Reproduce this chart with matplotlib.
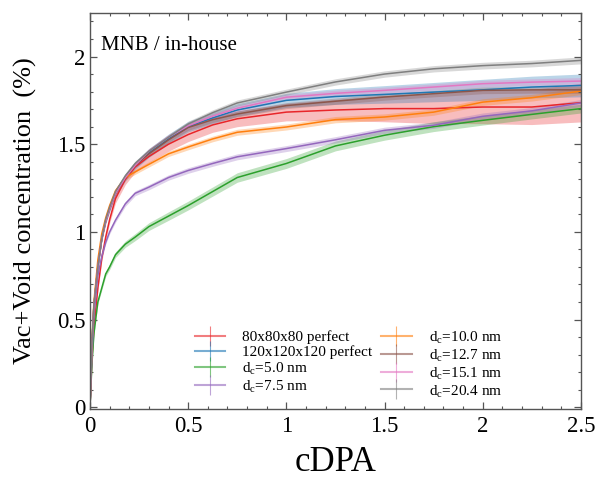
import numpy as np
import matplotlib
matplotlib.use("Agg")
import matplotlib.pyplot as plt
from matplotlib.lines import Line2D
from matplotlib.ticker import MultipleLocator, FormatStrFormatter


cdpa = [0, 0.01, 0.02, 0.04, 0.06, 0.08, 0.1, 0.13, 0.18, 0.23, 0.3,
        0.4, 0.5, 0.625, 0.75, 1.0, 1.25, 1.5, 1.75, 2.0, 2.25, 2.5]

perfect_80 = [0, 0.28, 0.45, 0.68, 0.85, 0.97, 1.07, 1.19, 1.30, 1.37, 1.43,
              1.50, 1.555, 1.61, 1.645, 1.683, 1.695, 1.703, 1.703, 1.712, 1.712, 1.737]
perfect_80_err = [0, 0.005, 0.01, 0.015, 0.02, 0.02, 0.02, 0.025, 0.03, 0.03, 0.035,
                  0.04, 0.04, 0.042, 0.045, 0.05, 0.06, 0.075, 0.085, 0.095, 0.10, 0.11]

perfect_120 = [0, 0.36, 0.58, 0.80, 0.96, 1.06, 1.13, 1.22, 1.31, 1.38, 1.45,
               1.53, 1.60, 1.65, 1.695, 1.75, 1.772, 1.784, 1.797, 1.81, 1.826, 1.835]
perfect_120_err = [0, 0.005, 0.01, 0.012, 0.015, 0.015, 0.018, 0.02, 0.02, 0.022, 0.025,
                   0.028, 0.03, 0.033, 0.036, 0.04, 0.045, 0.05, 0.055, 0.06, 0.062, 0.065]

dc_5_0 = [0, 0.25, 0.42, 0.60, 0.68, 0.76, 0.80, 0.87, 0.93, 0.97, 1.03,
          1.09, 1.15, 1.23, 1.31, 1.39, 1.49, 1.551, 1.60, 1.636, 1.67, 1.703]
dc_7_5 = [0, 0.30, 0.52, 0.75, 0.86, 0.94, 1.00, 1.067, 1.16, 1.22, 1.255,
          1.31, 1.35, 1.39, 1.428, 1.475, 1.525, 1.579, 1.608, 1.659, 1.69, 1.735]
dc_10_0 = [0, 0.38, 0.60, 0.84, 0.99, 1.08, 1.15, 1.235, 1.31, 1.342, 1.385,
           1.445, 1.484, 1.53, 1.568, 1.598, 1.64, 1.655, 1.683, 1.74, 1.765, 1.803]
dc_12_7 = [0, 0.36, 0.58, 0.80, 0.96, 1.06, 1.13, 1.22, 1.31, 1.38, 1.445,
           1.525, 1.595, 1.64, 1.672, 1.72, 1.745, 1.769, 1.788, 1.807, 1.81, 1.81]
dc_15_1 = [0, 0.36, 0.58, 0.80, 0.96, 1.06, 1.13, 1.22, 1.31, 1.38, 1.46,
           1.54, 1.605, 1.66, 1.705, 1.768, 1.79, 1.807, 1.826, 1.845, 1.854, 1.86]
dc_20_4 = [0, 0.36, 0.58, 0.80, 0.96, 1.07, 1.14, 1.23, 1.32, 1.39, 1.46,
           1.54, 1.615, 1.68, 1.735, 1.797, 1.855, 1.90, 1.93, 1.948, 1.96, 1.978]

small_err = [0, 0.004, 0.006, 0.008, 0.01, 0.01, 0.012, 0.012, 0.014, 0.014, 0.015,
             0.015, 0.016, 0.016, 0.017, 0.017, 0.018, 0.018, 0.018, 0.019, 0.019, 0.02]
green_err = [0, 0.005, 0.008, 0.01, 0.012, 0.014, 0.015, 0.016, 0.018, 0.02, 0.022,
             0.024, 0.025, 0.026, 0.027, 0.028, 0.028, 0.028, 0.028, 0.027, 0.026, 0.025]

labels = ["80x80x80 perfect", "120x120x120 perfect",
          r"d$_\mathregular{c}$=5.0 nm", r"d$_\mathregular{c}$=7.5 nm",
          r"d$_\mathregular{c}$=10.0 nm", r"d$_\mathregular{c}$=12.7 nm",
          r"d$_\mathregular{c}$=15.1 nm", r"d$_\mathregular{c}$=20.4 nm"]
colors = ["#e8262a", "#1f77b4", "#2ca02c", "#9467bd",
          "#ff7f0e", "#8c564b", "#e377c2", "#7f7f7f"]


def main():

    plt.rcParams["font.family"] = ["Liberation Serif", "DejaVu Serif"]
    plt.rcParams["mathtext.fontset"] = "custom"
    plt.rcParams["mathtext.rm"] = "Liberation Serif"

    series = [
        (perfect_80, perfect_80_err),
        (perfect_120, perfect_120_err),
        (dc_5_0, green_err),
        (dc_7_5, small_err),
        (dc_10_0, small_err),
        (dc_12_7, small_err),
        (dc_15_1, small_err),
        (dc_20_4, small_err),
    ]

    fig = plt.figure(figsize=(6.06, 4.79), dpi=100)
    ax = fig.add_axes([0.1485, 0.1455, 0.81, 0.828])

    x = np.array(cdpa)
    handles = []

    for (values, err), color, label in zip(series, colors, labels):

        y = np.array(values)
        e = np.array(err)

        ax.fill_between(x, y - e, y + e, color=color,
                        alpha=0.3, linewidth=0)
        ax.plot(x, y, color=color, linewidth=1.1)

        handles.append(
            Line2D([], [], color=color, alpha=0.6, linewidth=1.5,
                   marker="|", markersize=14, markeredgewidth=0.8,
                   label=label)
        )

    ax.set_xlim(0, 2.5)
    ax.set_ylim(-0.012, 2.25)

    ax.xaxis.set_major_locator(MultipleLocator(0.5))
    ax.xaxis.set_minor_locator(MultipleLocator(0.1))
    ax.yaxis.set_major_locator(MultipleLocator(0.5))
    ax.yaxis.set_minor_locator(MultipleLocator(0.1))
    ax.xaxis.set_major_formatter(FormatStrFormatter("%g"))
    ax.yaxis.set_major_formatter(FormatStrFormatter("%g"))

    ax.tick_params(which="both", direction="in", top=True, right=True,
                   color="#555555", labelsize=16.5)
    ax.tick_params(which="major", length=5, width=0.9)
    ax.tick_params(which="minor", length=2.5, width=0.8)
    ax.tick_params(axis="x", pad=5)

    for spine in ax.spines.values():
        spine.set_color("#555555")
        spine.set_linewidth(1.0)

    ax.set_xlabel("cDPA", fontsize=25, labelpad=6)
    ax.set_ylabel("Vac+Void concentration  (%)", fontsize=19, labelpad=14)

    ax.text(0.022, 0.94, "MNB / in-house", transform=ax.transAxes,
            fontsize=15, va="top", ha="left")

    ax.legend(handles=handles, ncol=2, frameon=False, fontsize=11,
              loc="lower left", bbox_to_anchor=(0.185, -0.01),
              handlelength=2.0, columnspacing=0.6, labelspacing=0.08,
              handletextpad=1.1)

    fig.savefig("out.png", dpi=100)
    plt.close(fig)


if __name__ == "__main__":
    main()
